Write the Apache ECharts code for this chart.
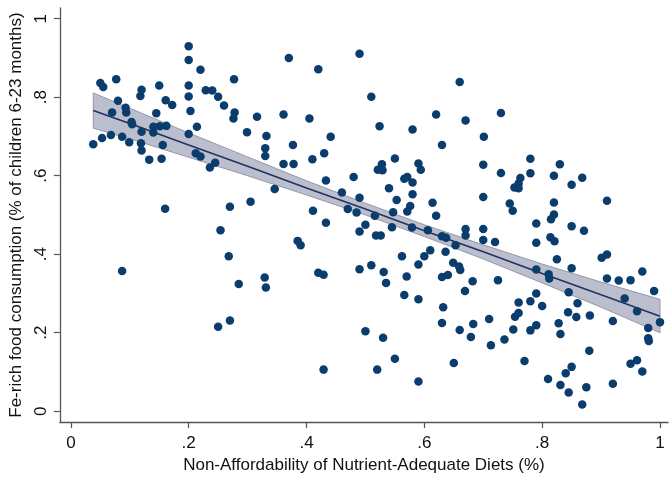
<!DOCTYPE html>
<html>
<head>
<meta charset="utf-8">
<script src="https://cdn.jsdelivr.net/npm/echarts@6/dist/echarts.min.js"></script>
<style>html,body{margin:0;padding:0;background:#fff;}#c{width:669px;height:479px;}</style>
</head>
<body>
<div id="c"></div>
<script>
// Tick labels
const xTicks = [0, 0.2, 0.4, 0.6, 0.8, 1];
const yTicks = [0, 0.2, 0.4, 0.6, 0.8, 1];
const xTitle = 'Non-Affordability of Nutrient-Adequate Diets (%)';
const yTitle = 'Fe-rich food consumption (% of children 6-23 months)';

// Scatter points [x, y]
const scatterPoints = [
[0.200,0.930],[0.200,0.895],[0.220,0.870],[0.077,0.846],[0.050,0.836],[0.055,0.826],[0.277,0.846],[0.120,0.819],[0.118,0.803],[0.150,0.830],[0.200,0.830],[0.200,0.802],[0.229,0.818],[0.240,0.817],[0.250,0.801],[0.260,0.779],[0.080,0.791],[0.161,0.792],[0.172,0.780],[0.093,0.773],[0.094,0.761],[0.070,0.761],[0.145,0.759],[0.203,0.765],[0.278,0.761],[0.276,0.746],[0.316,0.750],[0.103,0.737],[0.104,0.731],[0.140,0.725],[0.151,0.726],[0.162,0.727],[0.214,0.725],[0.120,0.712],[0.140,0.710],[0.200,0.706],[0.299,0.711],[0.332,0.701],[0.038,0.680],[0.053,0.696],[0.068,0.704],[0.087,0.699],[0.099,0.685],[0.119,0.683],[0.120,0.664],[0.156,0.678],[0.133,0.641],[0.154,0.643],[0.212,0.657],[0.220,0.649],[0.245,0.633],[0.236,0.621],[0.330,0.670],[0.330,0.650],[0.160,0.516],[0.270,0.521],[0.305,0.534],
[0.254,0.461],[0.268,0.395],[0.087,0.357],[0.285,0.324],[0.329,0.341],[0.331,0.315],[0.270,0.231],[0.250,0.215],
[0.411,0.511],[0.433,0.480],[0.470,0.515],[0.485,0.506],[0.500,0.475],[0.490,0.458],[0.516,0.498],[0.518,0.448],[0.526,0.448],[0.545,0.469],[0.547,0.507],[0.571,0.509],[0.579,0.468],[0.606,0.461],[0.620,0.498],[0.630,0.446],[0.637,0.442],[0.653,0.423],[0.670,0.464],[0.670,0.448],[0.385,0.434],[0.390,0.423],[0.562,0.395],[0.600,0.395],[0.610,0.410],[0.636,0.406],[0.590,0.374],[0.649,0.378],[0.659,0.369],[0.661,0.360],[0.420,0.353],[0.429,0.348],[0.490,0.362],[0.510,0.372],[0.531,0.355],[0.535,0.327],[0.570,0.343],[0.630,0.342],[0.640,0.347],[0.669,0.306],[0.566,0.296],[0.590,0.285],[0.632,0.265],[0.630,0.225],[0.660,0.207],[0.679,0.189],[0.500,0.204],[0.530,0.187],[0.550,0.134],[0.650,0.123],[0.429,0.106],[0.520,0.106],[0.590,0.076],
[0.370,0.900],[0.490,0.911],[0.420,0.871],[0.660,0.839],[0.510,0.801],[0.361,0.756],[0.405,0.746],[0.620,0.756],[0.670,0.741],[0.524,0.726],[0.580,0.718],[0.441,0.699],[0.377,0.678],[0.630,0.678],[0.430,0.657],[0.410,0.642],[0.361,0.630],[0.378,0.630],[0.550,0.644],[0.528,0.629],[0.521,0.615],[0.529,0.614],[0.590,0.631],[0.594,0.615],[0.433,0.588],[0.480,0.597],[0.566,0.592],[0.571,0.597],[0.580,0.583],[0.346,0.566],[0.460,0.557],[0.490,0.544],[0.540,0.568],[0.553,0.538],[0.580,0.553],[0.614,0.531],[0.576,0.523],
[0.730,0.760],[0.701,0.699],[0.700,0.628],[0.730,0.607],[0.780,0.643],[0.780,0.606],[0.830,0.629],[0.820,0.600],[0.868,0.595],[0.850,0.577],[0.763,0.594],[0.760,0.580],[0.753,0.570],[0.760,0.568],[0.700,0.546],[0.745,0.529],[0.750,0.511],[0.820,0.532],[0.910,0.536],
[0.820,0.501],[0.815,0.489],[0.790,0.478],[0.850,0.471],[0.871,0.460],[0.700,0.464],[0.700,0.436],[0.720,0.431],[0.790,0.429],[0.814,0.443],[0.821,0.433],[0.825,0.387],[0.790,0.361],[0.811,0.349],[0.812,0.338],[0.850,0.364],[0.901,0.391],[0.910,0.399],[0.970,0.356],[0.990,0.306],[0.910,0.338],[0.930,0.333],[0.950,0.334],[0.682,0.331],[0.725,0.334],[0.790,0.300],[0.780,0.280],[0.800,0.268],[0.760,0.277],[0.760,0.250],[0.754,0.241],[0.751,0.208],[0.780,0.206],[0.790,0.219],[0.710,0.235],[0.683,0.222],[0.736,0.183],[0.713,0.168],[0.845,0.303],[0.860,0.275],[0.844,0.252],[0.858,0.240],[0.881,0.244],[0.828,0.224],[0.831,0.197],[0.880,0.154],[0.770,0.128],[0.850,0.113],[0.840,0.097],[0.810,0.082],[0.831,0.067],[0.845,0.048],[0.875,0.061],[0.868,0.017],[0.920,0.070],[0.920,0.230],[0.940,0.287],[0.961,0.255],[0.980,0.212],[1.000,0.227],[0.980,0.186],[0.981,0.179],[0.950,0.121],[0.961,0.130],[0.970,0.101]
];

// Fitted line and confidence band
const fitX  = [0.038, 0.1, 0.2, 0.3, 0.4, 0.5, 0.6, 0.7, 0.8, 0.9, 1.0];
const fitY  = [0.766, 0.733, 0.678, 0.624, 0.569, 0.515, 0.460, 0.406, 0.351, 0.297, 0.242];
const ciLow = [0.721, 0.694, 0.647, 0.600, 0.551, 0.500, 0.445, 0.388, 0.327, 0.265, 0.200];
const ciHigh= [0.811, 0.772, 0.709, 0.648, 0.587, 0.530, 0.475, 0.424, 0.375, 0.329, 0.285];

const FONT = "'Liberation Sans', Arial, sans-serif";
const fmt = v => { if (Math.abs(v) < 1e-9) return '0'; if (Math.abs(v-1) < 1e-9) return '1'; return String(+v.toFixed(2)).replace(/^0\./, '.'); };

const chart = echarts.init(document.getElementById('c'), null, {renderer: 'canvas'});
const bandData = fitX.map((x, i) => [x, ciLow[i], ciHigh[i]]);

chart.setOption({
  animation: false,
  backgroundColor: '#ffffff',
  grid: {left: 59, right: 1, top: 8, bottom: 51, containLabel: false},
  xAxis: {
    type: 'value', min: -0.0186, max: 1.0136,
    name: xTitle, nameLocation: 'middle', nameGap: 29,
    nameTextStyle: {fontFamily: FONT, fontSize: 17, color: '#111'},
    axisLine: {show: true, onZero: false, lineStyle: {color: '#555', width: 1.3}},
    axisTick: {show: true, length: 6, customValues: xTicks, lineStyle: {color: '#555', width: 1.2}},
    axisLabel: {customValues: xTicks, formatter: fmt, margin: 13, fontFamily: FONT, fontSize: 17, color: '#111'},
    splitLine: {show: false}
  },
  yAxis: {
    type: 'value', min: -0.0277, max: 1.0273,
    name: yTitle, nameLocation: 'middle', nameGap: 31, nameRotate: 90,
    nameTextStyle: {fontFamily: FONT, fontSize: 17, color: '#111'},
    axisLine: {show: true, onZero: false, lineStyle: {color: '#555', width: 1.3}},
    axisTick: {show: true, length: 6, customValues: yTicks, lineStyle: {color: '#555', width: 1.2}},
    axisLabel: {customValues: yTicks, formatter: fmt, rotate: 90, margin: 10, fontFamily: FONT, fontSize: 17, color: '#111'},
    splitLine: {show: false}
  },
  series: [
    {
      type: 'custom', z: 1, silent: true,
      data: [0],
      renderItem: function (params, api) {
        const top = bandData.map(d => api.coord([d[0], d[2]]));
        const bot = bandData.slice().reverse().map(d => api.coord([d[0], d[1]]));
        return {
          type: 'polygon',
          shape: {points: top.concat(bot)},
          style: {fill: 'rgba(168,172,190,0.78)', stroke: '#9498ab', lineWidth: 1}
        };
      }
    },
    {
      type: 'line', z: 2, silent: true, symbol: 'none',
      data: fitX.map((x, i) => [x, fitY[i]]),
      lineStyle: {color: '#25325f', width: 1.6}
    },
    {
      type: 'scatter', z: 3, symbol: 'circle', symbolSize: 8.5,
      data: scatterPoints,
      itemStyle: {color: '#0a3d6e', opacity: 1}
    }
  ]
});
</script>
</body>
</html>
